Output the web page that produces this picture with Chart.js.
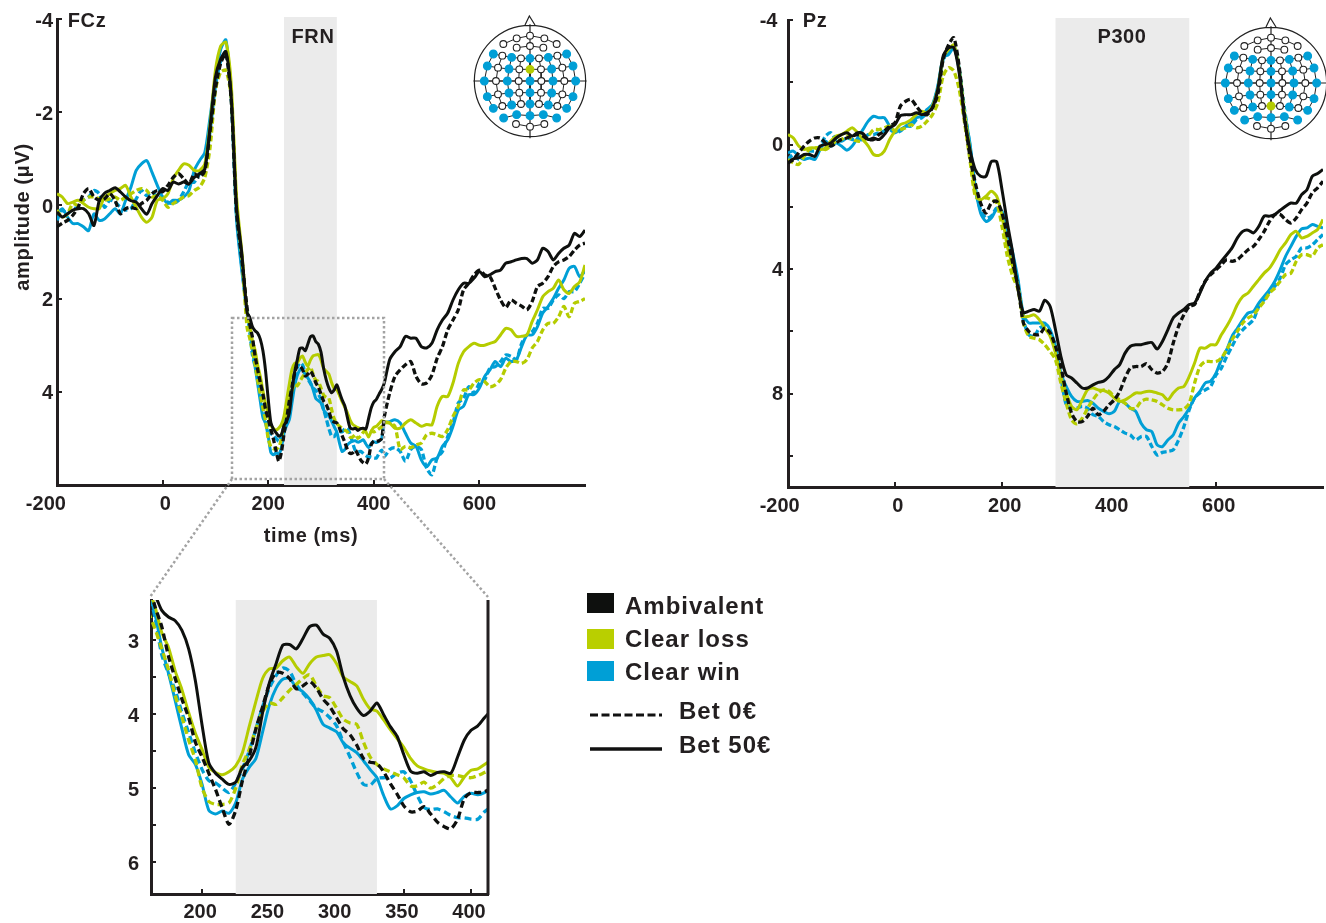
<!DOCTYPE html>
<html>
<head>
<meta charset="utf-8">
<title>FCz and Pz ERP</title>
<script src="https://cdn.jsdelivr.net/npm/chart.js@4/dist/chart.umd.min.js"></script>
<style>
  html, body { margin: 0; padding: 0; background: #fff; }
  body { position: relative; width: 1326px; height: 923px; overflow: hidden; font-family: "Liberation Sans", Arial, sans-serif; font-weight: bold; color: #231f20; }
  canvas, svg { position: absolute; }
  .lbl { position: absolute; white-space: nowrap; font-size: 20px; letter-spacing: .6px; transform: translate(-50%, -50%); }
  .leg { position: absolute; white-space: nowrap; font-size: 24px; letter-spacing: 1px; line-height: 28px; }
  .swatch { position: absolute; left: 587px; width: 27px; height: 20px; }
</style>
</head>
<body>
<canvas id="fcz" width="600" height="527" style="left:0;top:-2px"></canvas>
<canvas id="pz" width="586" height="529" style="left:740px;top:-2px"></canvas>
<canvas id="inset" width="390" height="352" style="left:110px;top:571px"></canvas>
<canvas id="headFcz" width="136" height="136" style="left:462px;top:13px"></canvas>
<canvas id="headPz" width="136" height="136" style="left:1203px;top:15px"></canvas>

<svg width="1326" height="923" style="left:0;top:0;pointer-events:none">
  <g fill="none" stroke="#a3a3a3" stroke-width="2.5" stroke-dasharray="2.5 2.5">
    <rect x="232" y="318" width="152" height="161"/>
    <path d="M232 479 L150 597"/>
    <path d="M384 479 L488 597"/>
  </g>
  <path d="M590 715 H662" stroke="#111" stroke-width="3" stroke-dasharray="8 3.5" fill="none"/>
  <path d="M590 749 H662" stroke="#111" stroke-width="3.5" fill="none"/>
</svg>

<div class="lbl" style="left:87px;top:20px">FCz</div>
<div class="lbl" style="left:815px;top:20px">Pz</div>
<div class="lbl" style="left:313px;top:36px">FRN</div>
<div class="lbl" style="left:1122px;top:36px">P300</div>
<div class="lbl" style="left:311px;top:535px">time (ms)</div>
<div class="lbl" style="left:22px;top:217px;transform:translate(-50%,-50%) rotate(-90deg)">amplitude (μV)</div>

<div class="swatch" style="top:593px;background:#0e100e"></div>
<div class="swatch" style="top:629px;background:#b9cf00"></div>
<div class="swatch" style="top:661px;background:#009fd6"></div>
<div class="leg" style="left:625px;top:592px">Ambivalent</div>
<div class="leg" style="left:625px;top:625px">Clear loss</div>
<div class="leg" style="left:625px;top:658px">Clear win</div>
<div class="leg" style="left:679px;top:697px">Bet 0€</div>
<div class="leg" style="left:679px;top:731px">Bet 50€</div>

<script>
// time grids (ms)
function range(a, b, step) {
    const out = [];
    for (let t = a; t <= b; t += step) out.push(t);
    return out;
}
const insetTimes = range(160, 415, 5);
const fczTimes = [...range(-200, 150, 10), ...insetTimes, ...range(420, 800, 10)];
const pzTimes = range(-200, 800, 10);

// FCz, before the inset window (-200..150)
const fczPreAmb50 = [.14,.25,.18,.1,.07,.07,.18,.43,-.1,-.26,-.32,-.38,-.29,-.18,-.1,-.07,.07,.19,-.04,-.21,-.36,-.32,-.5,-.46,-.5,-.46,-.6,-.68,-.78,-1.68,-2.75,-3.14,-3.3,-2.32,.03,1.03];
const fczPreAmb0 = [.46,.38,.32,.21,.04,-.25,-.36,-.18,-.11,-.14,-.25,-.11,.18,.07,.04,.07,-.04,-.11,-.25,-.32,-.29,-.43,-.6,-.68,-.57,-.46,-.68,-.6,-.75,-1.6,-2.5,-3.05,-3.25,-2.25,.15,1.15];
const fczPreLoss50 = [-.25,-.18,-.04,-.07,-.11,-.04,.04,.07,.07,-.18,-.25,-.32,-.36,-.43,-.18,.04,.25,.36,.25,-.11,-.14,-.25,-.57,-.75,-.89,-.86,-.75,-.75,-.89,-1.75,-2.89,-3.42,-3.5,-2.6,-.2,1];
const fczPreLoss0 = [.1,.25,.18,-.04,0,-.11,-.18,-.18,-.14,-.11,-.14,-.18,-.11,-.18,-.25,-.32,-.36,-.32,-.18,-.21,-.11,.04,-.04,-.11,-.18,-.21,-.32,-.39,-.6,-1.25,-2.46,-2.86,-2.9,-2.3,0,1.1];
const fczPreWin50 = [.18,.07,.25,.39,.39,.46,.54,.18,.32,.29,.18,.07,.18,-.11,-.39,-.75,-.89,-.96,-.71,-.43,-.18,-.04,-.11,-.11,-.18,-.32,-.75,-.96,-1.14,-1.9,-2.7,-3.35,-3.55,-2.3,.3,1.4];
const fczPreWin0 = [.32,.1,.18,.07,.04,-.11,-.18,-.32,-.25,.04,-.11,-.07,.04,.1,.07,-.14,-.32,-.21,-.29,-.18,-.18,-.07,-.04,-.11,-.29,-.5,-.5,-.68,-.86,-1.6,-2.55,-3.1,-3.3,-2.3,.2,1.3];

// FCz, inset window (160..415), also plotted in the big panel
const insetAmb50 = [2.3,2.4,2.6,2.69,2.74,2.87,3.12,3.55,4.15,4.66,4.8,4.88,4.95,4.92,4.72,4.63,4.45,3.98,3.58,3.32,3.07,3.06,3.12,2.98,2.82,2.8,2.92,2.98,3.15,3.5,3.75,3.92,4.02,3.96,3.85,4.01,4.17,4.3,4.55,4.77,4.8,4.78,4.83,4.79,4.78,4.8,4.58,4.35,4.22,4.16,4.05,3.95];
const insetAmb0 = [2.2,2.55,2.82,3.22,3.52,3.8,4.05,4.38,4.58,4.8,5.02,5.27,5.49,5.3,4.9,4.58,4.2,3.9,3.6,3.44,3.45,3.52,3.66,3.62,3.56,3.65,3.8,3.9,4.05,4.2,4.28,4.42,4.6,4.65,4.67,4.78,4.94,5.08,5.24,5.32,5.31,5.25,5.35,5.46,5.52,5.55,5.42,5.14,5.06,5.06,5.05,5];
const insetLoss50 = [2.3,2.55,2.9,3.1,3.42,3.67,3.98,4.26,4.48,4.72,4.79,4.82,4.78,4.7,4.52,4.17,3.83,3.52,3.39,3.38,3.28,3.23,3.36,3.45,3.32,3.23,3.21,3.2,3.32,3.5,3.56,3.62,3.8,3.93,3.96,4.08,4.21,4.33,4.45,4.6,4.7,4.74,4.77,4.79,4.8,4.86,4.97,4.85,4.76,4.74,4.68,4.62];
const insetLoss0 = [2.62,2.85,3.12,3.4,3.75,4.04,4.35,4.62,5,5.18,5.22,5.22,5.2,5,4.68,4.48,4.2,3.97,3.85,3.87,3.78,3.68,3.6,3.52,3.47,3.62,3.75,3.78,3.92,4.07,4.12,4.14,4.38,4.58,4.68,4.74,4.78,4.82,4.86,4.97,4.97,4.92,5,4.95,4.87,4.83,4.83,4.85,4.86,4.83,4.79,4.75];
const insetWin50 = [2.3,2.65,3.1,3.45,3.82,4.2,4.55,4.68,4.95,5.3,5.35,5.31,5.34,5.2,4.88,4.72,4.6,4.24,3.88,3.65,3.53,3.52,3.64,3.7,3.8,3.95,4.14,4.19,4.24,4.39,4.46,4.52,4.63,4.75,4.86,5.1,5.28,5.24,5.14,5.09,5.06,5.05,5.08,5.06,5.03,5.12,5.2,5.11,5.07,5.09,5.06,5];
const insetWin0 = [2.3,2.7,3.2,3.45,3.68,3.98,4.25,4.52,4.75,4.9,4.93,5,5.06,4.93,4.74,4.5,4.2,3.9,3.65,3.48,3.38,3.42,3.6,3.72,3.82,3.92,3.97,4.05,4.16,4.38,4.58,4.79,4.95,4.96,4.87,4.86,4.86,4.8,4.78,4.9,5.1,5.26,5.29,5.28,5.32,5.37,5.4,5.4,5.42,5.42,5.32,5.25];

// FCz, after the inset window (420..800)
const fczPostAmb50 = [3.81,3.31,3.14,3.03,2.81,2.85,2.85,3.03,3.06,2.96,2.67,2.46,2.31,2.03,1.81,1.67,1.67,1.56,1.42,1.53,1.49,1.42,1.39,1.24,1.21,1.17,1.14,1.14,1.24,1.17,.92,.99,1.17,1.03,.92,.85,.6,.67,.53];
const fczPostAmb0 = [4.53,4.03,3.67,3.53,3.42,3.35,3.67,3.83,3.81,3.64,3.28,3.03,2.67,2.46,2.24,1.81,1.67,1.49,1.39,1.49,1.53,1.78,2.03,2.19,2.03,2.1,2.16,2.24,2.06,1.74,1.67,1.53,1.31,1.21,1.17,1.1,.96,.85,.81];
const fczPostLoss50 = [4.64,4.67,4.78,4.78,4.67,4.6,4.67,4.74,4.7,4.71,4.31,4.1,4.1,3.81,3.39,3.14,3.03,2.96,3,3,2.96,2.92,2.78,2.64,2.67,2.81,2.81,2.78,2.49,2.24,1.96,1.85,1.78,1.6,1.81,1.89,1.74,1.64,1.28];
const fczPostLoss0 = [4.67,4.67,4.74,5.24,5.17,5.2,5.14,5.1,4.92,4.89,4.92,4.96,4.81,4.53,4.31,3.96,3.96,3.81,3.74,3.78,3.89,3.85,3.74,3.49,3.35,3.35,3.39,3.31,3.06,2.92,2.67,2.53,2.53,2.39,2.17,2.39,2.1,2.06,2];
const fczPostWin50 = [4.67,4.64,4.6,4.67,4.89,5.1,5.17,5.46,5.61,5.46,5.42,5.17,5.03,4.74,4.39,4.31,4.06,4.06,3.92,3.67,3.53,3.35,3.46,3.28,3.35,3.31,3.03,2.78,2.78,2.6,2.31,2.17,2,1.78,1.6,1.35,1.31,1.53,1.39];
const fczPostWin0 = [5.39,5.24,5.2,5.28,5.49,5.24,5.17,5.24,5.64,5.78,5.42,5.28,4.96,4.67,4.24,4.14,3.89,4.03,3.81,3.74,3.49,3.46,3.35,3.21,3.24,3.31,2.96,2.78,2.71,2.53,2.21,2.21,2.03,1.92,2,1.85,1.85,1.67,1.46];

// Pz (-200..800)
const pzAmb50 = [.59,.46,.43,.32,.32,.38,.05,0,-.05,-.21,-.32,-.38,-.27,-.38,-.35,-.16,-.21,-.16,-.32,-.54,-.64,-.93,-.96,-.96,-1.02,-.96,-1.02,-1.18,-1.77,-2.84,-3.11,-3.11,-2.3,-.8,.16,.8,1.02,1.02,.55,.55,1.45,2.52,3.48,4.66,
    5.4,5.35,5.3,5.35,5,5.2,5.95,6.8,7.4,7.5,7.66,7.82,7.82,7.72,7.64,7.6,7.45,7.23,7.07,6.7,6.48,6.43,6.43,6.38,6.36,6.57,6.32,5.95,5.57,5.41,5.3,5.14,5.09,4.77,4.39,4.13,3.97,3.75,3.54,3.32,3,2.79,2.75,2.84,2.63,2.3,2.3,2.25,2.11,1.98,1.88,1.88,1.61,1.45,1.02,.93,.8];
const pzAmb0 = [.59,.48,.27,.05,-.11,-.21,-.21,-.05,.05,-.05,-.16,-.21,-.27,-.32,-.27,-.16,-.16,-.32,-.43,-.59,-.7,-1.23,-1.39,-1.45,-1.23,-1.02,-.96,-1.18,-1.61,-2.73,-3.2,-3.43,-2.5,-.9,.38,1.23,1.88,2.2,1.88,1.82,2.2,2.95,3.8,4.56,
    5.73,6,6.1,6.1,5.9,6.05,6.48,7.13,7.98,8.63,8.9,8.9,8.73,8.47,8.68,8.57,8.36,8.2,7.93,7.5,7.18,7.13,7.13,7.04,7.23,7.34,7.29,7.02,6.38,5.84,5.47,5.2,5.14,4.72,4.39,4.18,4.02,3.86,3.7,3.75,3.7,3.54,3.38,3.27,3.05,2.79,2.47,2.25,2.25,2.41,2.52,2.36,2.09,1.88,1.55,1.39,1.18];
const pzLoss50 = [-.32,-.21,.05,.16,.11,.11,.16,.11,-.11,-.27,-.32,-.43,-.54,-.38,-.16,.05,.32,.35,.21,-.16,-.43,-.64,-.7,-.8,-.96,-1.07,-1.02,-1.23,-1.77,-2.79,-3.05,-3.2,-2.41,-1.02,.16,1.55,1.77,1.66,1.5,1.66,2.3,3.27,3.91,4.56,
    5.52,5.52,5.47,5.63,5.9,6.16,6.7,7.45,7.98,8.41,8.52,8.2,7.88,7.82,7.88,7.9,7.98,8.14,8.25,8.2,8.09,7.98,7.98,7.93,7.93,7.98,8.04,8.2,7.98,7.82,7.77,7.45,7.02,6.54,6.54,6.43,6.43,6.11,5.84,5.52,5.14,4.88,4.77,4.55,4.34,4.13,3.97,3.7,3.38,3.16,2.89,2.79,3,2.95,2.84,2.73,2.41];
const pzLoss0 = [.48,.59,.64,.38,.16,.11,.11,.16,.05,-.11,-.16,-.27,-.16,-.11,-.11,-.27,-.48,-.48,-.54,-.59,-.43,-.48,-.54,-.64,-.54,-.59,-.75,-.96,-1.34,-2.2,-2.47,-2.36,-1.77,-.7,.48,1.66,1.77,1.71,1.77,1.88,2.63,3.59,4.23,4.66,
    5.73,6.16,6.22,6.27,6.43,6.65,6.91,7.66,8.31,8.84,8.97,8.79,8.47,8.2,7.98,7.88,7.93,8.09,8.2,8.31,8.47,8.47,8.25,8.18,8.2,8.25,8.36,8.47,8.52,8.52,8.5,8.31,7.66,7.13,6.97,6.97,6.97,6.86,6.59,6.27,6,5.73,5.57,5.47,5.25,5.04,4.77,4.61,4.39,4.18,4.13,3.75,3.54,3.54,3.59,3.32,3.22];
const pzWin50 = [.27,.21,.38,.48,.43,.48,.16,-.11,.05,-.05,.05,.18,.05,-.21,-.48,-.75,-.91,-.86,-.86,-.59,-.38,-.48,-.59,-.7,-.86,-.91,-1.13,-1.29,-1.88,-2.79,-2.89,-3.11,-2.41,-1.02,-.05,1.34,2.2,2.47,2.36,2.09,2.14,2.73,3.48,4.34,
    5.47,5.73,5.73,5.73,5.73,5.95,6.48,7.34,7.77,8.09,8.25,8.25,8.22,8.31,8.47,8.57,8.65,8.57,8.25,8.31,8.47,8.57,8.95,9.16,9.22,9.65,9.7,9.49,9.33,8.95,8.74,8.47,8.14,7.93,7.66,7.6,7.34,6.91,6.59,6.16,5.9,5.63,5.41,5.36,5.09,4.88,4.66,4.39,4.02,3.59,3.27,2.95,2.71,2.68,2.57,2.63,2.68];
const pzWin0 = [.48,.32,.48,.38,.21,.21,.05,-.27,-.38,-.16,-.11,-.21,-.16,-.16,-.16,-.32,-.32,-.38,-.43,-.48,-.38,-.43,-.59,-.59,-.8,-.86,-1.02,-1.23,-1.82,-2.73,-2.95,-3.16,-2.41,-1.13,.05,1.45,2.09,2.36,2.3,2.04,2.2,2.84,3.59,4.45,
    5.63,6.11,6.16,5.9,5.84,6.05,6.54,7.45,8.36,8.47,8.47,8.41,8.47,8.68,8.73,8.9,9,9.06,9.16,9.27,9.33,9.49,9.38,9.38,9.7,9.97,9.89,9.86,9.81,9.49,9.06,8.52,8.14,7.98,7.88,7.77,7.4,7.18,6.81,6.48,6.16,5.95,5.79,5.63,5.2,4.98,4.72,4.55,4.29,3.86,3.7,3.59,3.32,3.32,3.22,3.05,2.89];

// axis ticks
const fczXTicks = [-200, 0, 200, 400, 600];
const fczYTicks = [-4, -2, 0, 2, 4];
const pzYTicks = [-4, -2, 0, 2, 4, 6, 8, 10];
const pzYLabels = [-4, 0, 4, 8];
const insetXTicks = [200, 250, 300, 350, 400];
const insetYTicks = [3, 3.5, 4, 4.5, 5, 5.5, 6];
const insetYLabels = [3, 4, 5, 6];

// some labels sit off their ticks in the figure, spaces push them over
const fczXText = { '-200': '-200    ', '0': ' 0' };
const pzXText = { '-200': '-200   ', '0': ' 0', '200': ' 200', '400': ' 400', '600': ' 600' };
const pzYText = { '-4': '-4 ' };

const frnWindow = [230, 330];
const p300Window = [300, 550];
const insetWindow = [225, 330];

// electrode rows of the head map: [x, y, used in analysis]
const headRows = [
    [[-80,-111,0],[-40,-128,0],[0,-136,0],[43,-128,0],[80,-111,0]],
    [[-40,-100,0],[0,-105,0],[40,-100,0]],
    [[-110,-81,1],[-83,-76,0],[-55,-71,1],[-27,-68,0],[0,-68,1],[27,-68,0],[55,-71,1],[82,-76,0],[110,-81,1]],
    [[-128,-45,1],[-96,-40,0],[-63,-36,1],[-32,-35,0],[0,-35,1],[33,-35,0],[65,-36,1],[97,-40,0],[129,-45,1]],
    [[-137,0,1],[-102,0,0],[-68,0,1],[-34,0,0],[0,0,1],[34,0,0],[69,0,1],[103,0,0],[137,0,1]],
    [[-128,47,1],[-96,40,0],[-63,36,1],[-32,35,0],[0,35,1],[33,35,0],[65,36,1],[97,40,0],[129,47,1]],
    [[-110,82,1],[-83,75,0],[-55,72,1],[-27,69,0],[0,69,1],[27,69,0],[55,72,1],[82,75,0],[110,82,1]],
    [[-79,111,1],[-40,101,1],[0,104,1],[40,101,1],[80,111,1]],
    [[-42,129,0],[0,137,0],[43,129,0]]
];

const BLACK = '#0e100e', GREEN = '#b5cc00', BLUE = '#009fd6', AXIS = '#231f20';

function traces(names, series, times, width, dash) {
    // first in the list is painted last, so black ends up on top
    const colors = [BLACK, BLACK, GREEN, GREEN, BLUE, BLUE];
    return series.map((vals, i) => ({
        label: names[i],
        data: vals.map((v, k) => ({ x: times[k], y: v })),
        borderColor: colors[i],
        borderWidth: width + (i % 2 ? 0.3 : 0),
        borderDash: i % 2 ? dash : [],
        pointRadius: 0,
        tension: 0.25,
        fill: false
    }));
}

const traceNames = ['Ambivalent 50', 'Ambivalent 0', 'Clear loss 50', 'Clear loss 0', 'Clear win 50', 'Clear win 0'];

const bandPlugin = {
    id: 'band',
    beforeDatasetsDraw(chart, args, opts) {
        const { ctx, chartArea, scales } = chart;
        const x0 = scales.x.getPixelForValue(opts.from);
        const x1 = scales.x.getPixelForValue(opts.to);
        const top = chartArea.top - (opts.rightBorder ? 0 : 2);
        ctx.save();
        ctx.fillStyle = '#ebebeb';
        ctx.fillRect(x0, top, x1 - x0, chartArea.bottom - top);
        ctx.restore();
    },
    afterDraw(chart, args, opts) {
        if (!opts.rightBorder) return;
        const { ctx, chartArea } = chart;
        ctx.save();
        ctx.strokeStyle = AXIS;
        ctx.lineWidth = 3;
        ctx.beginPath();
        ctx.moveTo(chartArea.right, chartArea.top);
        ctx.lineTo(chartArea.right, chartArea.bottom + 1);
        ctx.stroke();
        ctx.restore();
    }
};

function axisOpts(cfg) {
    return {
        type: 'linear',
        min: cfg.min,
        max: cfg.max,
        reverse: !!cfg.reverse,
        border: { color: AXIS, width: 3 },
        grid: { drawOnChartArea: false, drawTicks: true, tickLength: -5, color: AXIS, lineWidth: 2 },
        ticks: {
            color: AXIS,
            font: { family: '"Liberation Sans", Arial, sans-serif', size: 20, weight: 'bold' },
            padding: cfg.padding,
            labelOffset: cfg.labelOffset || 0,
            autoSkip: false,
            maxRotation: 0,
            callback(v) {
                if (cfg.text && cfg.text[v]) return cfg.text[v];
                return !cfg.labels || cfg.labels.includes(v) ? String(v) : '';
            }
        },
        afterBuildTicks(axis) { axis.ticks = cfg.ticks.map(v => ({ value: v })); },
        afterFit(axis) {
            if (cfg.width) axis.width = cfg.width;
            if (cfg.height) axis.height = cfg.height;
        }
    };
}

function erpChart(id, datasets, win, x, y, padding, rightBorder) {
    return new Chart(document.getElementById(id), {
        type: 'line',
        data: { datasets },
        options: {
            responsive: false,
            animation: false,
            devicePixelRatio: 1,
            layout: { padding, autoPadding: false },
            scales: { x: axisOpts(x), y: axisOpts(y) },
            plugins: {
                legend: { display: false },
                tooltip: { enabled: false },
                band: { from: win[0], to: win[1], rightBorder }
            }
        },
        plugins: [bandPlugin]
    });
}

// FCz
erpChart('fcz',
    traces(traceNames, [
        [...fczPreAmb50, ...insetAmb50, ...fczPostAmb50],
        [...fczPreAmb0, ...insetAmb0, ...fczPostAmb0],
        [...fczPreLoss50, ...insetLoss50, ...fczPostLoss50],
        [...fczPreLoss0, ...insetLoss0, ...fczPostLoss0],
        [...fczPreWin50, ...insetWin50, ...fczPostWin50],
        [...fczPreWin0, ...insetWin0, ...fczPostWin0]
    ], fczTimes, 3, [6, 3]),
    frnWindow,
    { min: -200, max: 800, ticks: fczXTicks, text: fczXText, padding: 12, height: 40 },
    { min: -4, max: 6, reverse: true, ticks: fczYTicks, padding: 9, labelOffset: 2, width: 57 },
    { top: 21, right: 15 });

// Pz
erpChart('pz',
    traces(traceNames, [pzAmb50, pzAmb0, pzLoss50, pzLoss0, pzWin50, pzWin0], pzTimes, 3, [6, 3]),
    p300Window,
    { min: -200, max: 800, ticks: fczXTicks, text: pzXText, padding: 12, height: 40 },
    { min: -4, max: 11, reverse: true, ticks: pzYTicks, labels: pzYLabels, text: pzYText, padding: 10, labelOffset: 1, width: 48 },
    { top: 22, right: 3 });

// zoomed FCz window
erpChart('inset',
    traces(traceNames, [insetAmb50, insetAmb0, insetLoss50, insetLoss0, insetWin50, insetWin0], insetTimes, 3, [7, 4]),
    insetWindow,
    { min: 162, max: 412.6, ticks: insetXTicks, padding: 11, labelOffset: -2, height: 28 },
    { min: 2.46, max: 6.43, reverse: true, ticks: insetYTicks, labels: insetYLabels, padding: 17, labelOffset: 2, width: 41 },
    { top: 29, right: 12 }, true);

const headPlugin = {
    id: 'headShape',
    beforeDatasetsDraw(chart) {
        const { ctx, scales } = chart;
        const px = v => scales.x.getPixelForValue(v);
        const py = v => scales.y.getPixelForValue(v);
        ctx.save();
        ctx.strokeStyle = '#222';
        ctx.lineWidth = 1.2;
        ctx.beginPath();
        ctx.arc(px(0), py(0), px(167) - px(0), 0, Math.PI * 2);
        ctx.moveTo(px(-170), py(0)); ctx.lineTo(px(170), py(0));
        ctx.moveTo(px(0), py(-170)); ctx.lineTo(px(0), py(172));
        ctx.moveTo(px(-15), py(-168)); ctx.lineTo(px(-2), py(-195)); ctx.lineTo(px(15), py(-168));
        ctx.stroke();
        ctx.restore();
    }
};

function headChart(id, target) {
    const datasets = headRows.map((row, r) => {
        const color = row.map((e, c) => {
            if (r === target[0] && c === target[1]) return GREEN;
            return e[2] ? BLUE : '#fff';
        });
        return {
            data: row.map(e => ({ x: e[0], y: e[1] })),
            showLine: true,
            borderColor: '#222',
            borderWidth: 1,
            pointBackgroundColor: color,
            pointBorderColor: color.map(c => (c === '#fff' ? '#222' : c)),
            pointBorderWidth: 1.1,
            pointRadius: color.map(c => (c === '#fff' ? 3.4 : 3.9))
        };
    });
    // columns joining the nine-electrode rows, drawn under the points
    for (let c = 0; c < 9; c++) {
        datasets.push({
            data: [2, 3, 4, 5, 6].map(r => ({ x: headRows[r][c][0], y: headRows[r][c][1] })),
            showLine: true,
            borderColor: '#222',
            borderWidth: 1,
            pointRadius: 0
        });
    }
    return new Chart(document.getElementById(id), {
        type: 'scatter',
        data: { datasets },
        options: {
            responsive: false,
            animation: false,
            devicePixelRatio: 1,
            layout: { autoPadding: false },
            scales: {
                x: { display: false, min: -204, max: 204 },
                y: { display: false, min: -204, max: 204, reverse: true }
            },
            plugins: { legend: { display: false }, tooltip: { enabled: false } }
        },
        plugins: [headPlugin]
    });
}

headChart('headFcz', [3, 4]);
headChart('headPz', [6, 4]);
</script>
</body>
</html>
